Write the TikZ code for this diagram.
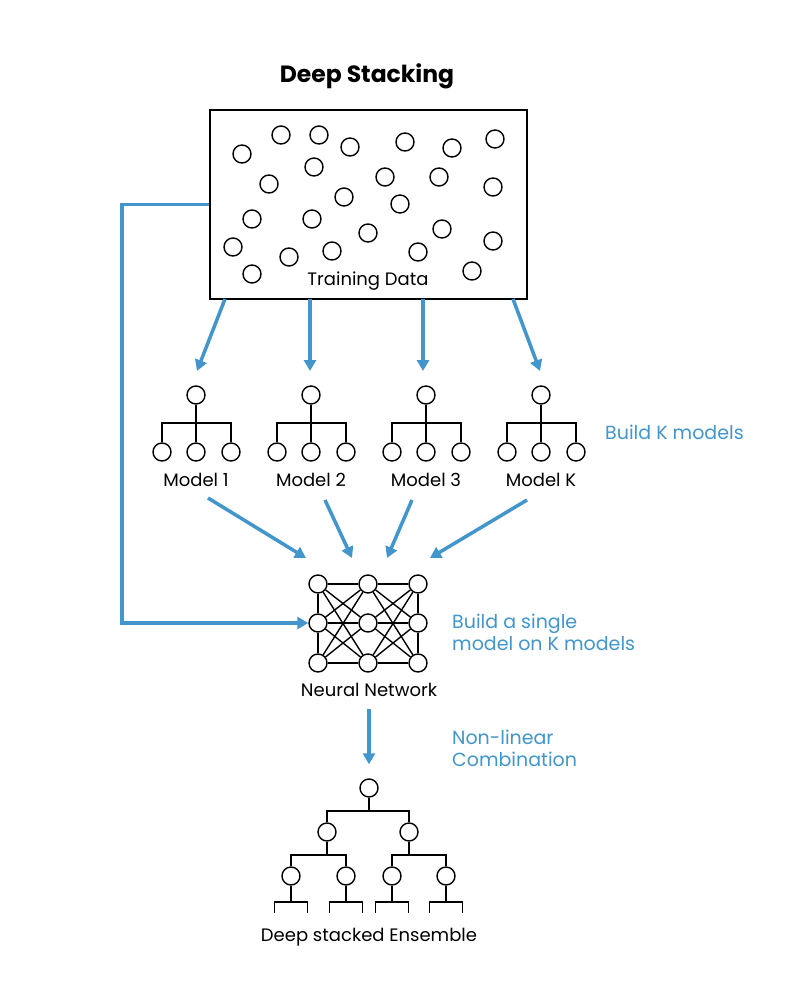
\documentclass[tikz,border=0pt]{standalone}
\usepackage{fontspec}
\setmainfont{Poppins}
\usetikzlibrary{arrows.meta}
\definecolor{skyline}{RGB}{66,150,203}
\begin{document}
\begin{tikzpicture}[x=1pt,y=-1pt,
  dot/.style={circle,draw,line width=1.4pt,minimum size=18pt,inner sep=0pt},
  edge/.style={line width=1.4pt},
  arr/.style={skyline,line width=3.5pt,-{Triangle[length=11pt,width=12pt]}},
  lab/.style={font=\fontsize{18}{21}\selectfont},
  note/.style={skyline,anchor=west,align=left,inner sep=0pt,font=\fontsize{19}{22}\selectfont}]
  \useasboundingbox[fill=white] (0,0) rectangle (800,984);

  \node[font=\bfseries\fontsize{23.5}{27}\selectfont] (title) at (367,76) {Deep Stacking};

  % training data
  \node[draw,line width=1.8pt,minimum width=317pt,minimum height=189pt,inner sep=0pt] (data) at (368.5,204.5) {};
  \foreach \x/\y[count=\i] in {242/154,281/135,319/135,350/147,405/142,452/148,495/139,
    314/167,269/184,385/177,439/177,493/187,344/197,400/204,252/219,312/219,368/233,
    442/229,233/247,493/241,289/257,332/251,418/252,252/274,472/271} {
    \node[dot] (d\i) at (\x,\y) {};
  }
  \node[lab] (tdlab) at (368,281) {Training Data};

  % base models
  \foreach \m/\x[count=\i] in {1/196,2/311,3/426,K/541} {
    \node[dot] (m\i) at (\x,395) {};
    \node[dot] (l\i1) at (\x-34,452) {};
    \node[dot] (l\i2) at (\x,452) {};
    \node[dot] (l\i3) at (\x+35,452) {};
    \coordinate (b\i) at (\x,423);
    \draw[edge] (m\i) -- (b\i) -- (l\i2);
    \draw[edge] (l\i1) |- (b\i) -| (l\i3);
    \node[lab] (ml\i) at (\x,480) {Model \m};
  }
  \foreach \s/\t[count=\i] in {225/197,310/310,423/423,513/540} {
    \coordinate (s\i) at (\s,299);
    \coordinate (t\i) at (\t,371);
    \draw[arr] (s\i) -- (t\i);
  }
  \node[note] (knote) at (605,432) {Build K models};

  % neural network
  \foreach \c/\x in {1/318,2/368,3/418} {
    \foreach \r/\y in {1/584,2/623,3/663} {
      \node[dot] (n\c\r) at (\x,\y) {};
    }
  }
  \foreach \r in {1,2,3} {
    \draw[edge] (n1\r) -- (n2\r) -- (n3\r);
  }
  \draw[edge] (n11) -- (n12) -- (n13) (n31) -- (n32) -- (n33);
  \foreach \a in {1,2,3} {
    \foreach \b in {1,2,3} {
      \ifnum\a=\b\else
        \draw[edge] (n1\a) -- (n2\b) (n2\a) -- (n3\b);
      \fi
    }
  }
  \node[lab] (nnlab) at (369,690) {Neural Network};
  \foreach \ux/\uy/\vx[count=\i] in {208/498/306,325/500/352,412/500/387,527/500/430} {
    \coordinate (u\i) at (\ux,\uy);
    \coordinate (v\i) at (\vx,558);
    \draw[arr] (u\i) -- (v\i);
  }
  \draw[arr] (data.west) -- ++(-87,0) |- (n12);
  \node[note] (nnnote) at (452,632) {Build a single\\model on K models};

  % deep stacked ensemble
  \node[dot] (e1) at (369,788) {};
  \node[dot] (e2) at (327,832) {};
  \node[dot] (e3) at (409,832) {};
  \foreach \x[count=\i from 4] in {291,346,392,446} {
    \node[dot] (e\i) at (\x,876) {};
    \coordinate (g\i) at (\x,902);
    \draw[edge] (e\i) -- (g\i) ++(-16.5,11) -- ++(0,-11) -- ++(33,0) -- ++(0,11);
  }
  \coordinate (f1) at (369,811);
  \coordinate (f2) at (327,855);
  \coordinate (f3) at (409,855);
  \draw[edge] (e1) -- (f1) (e2) |- (f1) -| (e3);
  \draw[edge] (e2) -- (f2) (e4) |- (f2) -| (e5);
  \draw[edge] (e3) -- (f3) (e6) |- (f3) -| (e7);
  \draw[arr,shorten <=9pt,shorten >=14pt] (nnlab) -- (e1);
  \node[note] (cnote) at (452,748) {Non-linear\\Combination};
  \node[lab] (elab) at (369,937) {Deep stacked Ensemble};
\end{tikzpicture}
\end{document}
